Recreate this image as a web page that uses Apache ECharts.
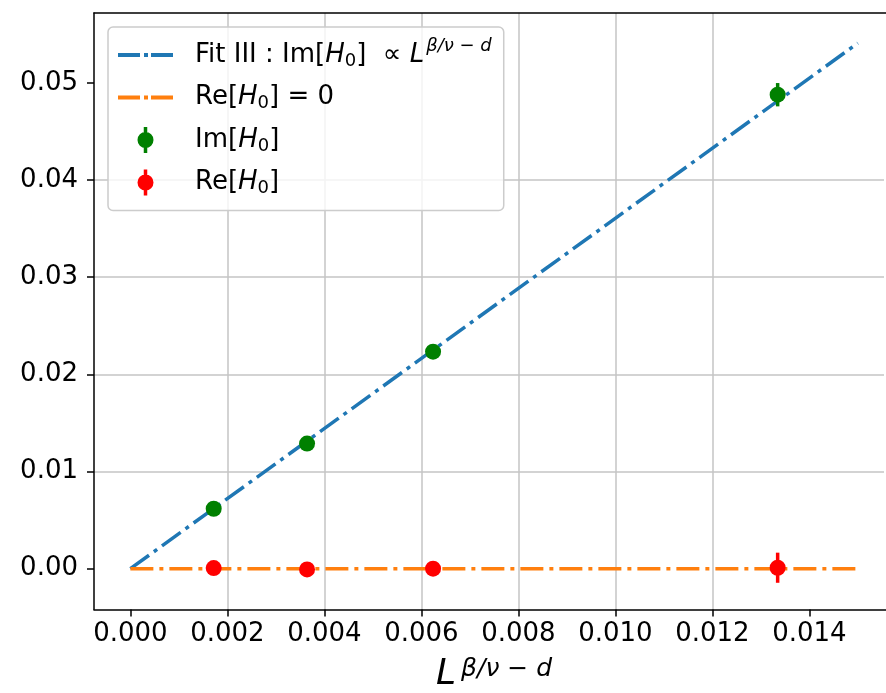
<!DOCTYPE html>
<html>
<head>
<meta charset="utf-8">
<script src="https://cdn.jsdelivr.net/npm/echarts@6/dist/echarts.min.js"></script>
<style>
html, body { margin: 0; padding: 0; background: #fff; overflow: hidden; }
#main { width: 886px; height: 693px; }
</style>
</head>
<body>
<div id="main"></div>
<script>
// x = L^(beta/nu - d)
const xVals = [0.001718, 0.003643, 0.006241, 0.013346];
const imVals = [0.00617, 0.01288, 0.02234, 0.04879];
const imErrs = [0.0002, 0.0002, 0.0002, 0.0012];
const reVals = [0.00006, -0.00007, 0.0, 0.0001];
const reErrs = [0.0002, 0.0002, 0.0002, 0.00155];
// fit lines
const fitX = [0, 0.015];
const fitIm = [0, 0.0541];
const fitRe = [0, 0];
// tick labels
const xTicks = [0, 0.002, 0.004, 0.006, 0.008, 0.010, 0.012, 0.014];
const yTicks = [0, 0.01, 0.02, 0.03, 0.04, 0.05];

const FONT = 'DejaVu Sans';
const dashDot = [23, 6, 4, 6];
const lineIcon = 'path://M0,0h22v4h-22z M26,0h4v4h-4z M33,0h22v4h-22z';
const dotIcon = 'path://M6.25,0h3.5v26h-3.5z M0,13a8,8 0 1,1 16,0a8,8 0 1,1 -16,0z';

function pairs (xs, ys) {
  return xs.map((x, i) => [x, ys[i]]);
}
function errData (xs, ys, es) {
  return xs.map((x, i) => [x, ys[i] - es[i], ys[i] + es[i]]);
}
function errBar (params, api) {
  const a = api.coord([api.value(0), api.value(1)]);
  const b = api.coord([api.value(0), api.value(2)]);
  return {
    type: 'line',
    shape: { x1: a[0], y1: a[1], x2: b[0], y2: b[1] },
    style: { stroke: api.visual('color'), lineWidth: 3.5 }
  };
}

const legendText = {
  fit: '{sp| }Fit III : Im[{i|H}{s|0}]  ∝ {i|L}{p|β/ν − d}',
  re0: '{sp| }Re[{i|H}{s|0}] = 0',
  im: '{sp| }Im[{i|H}{s|0}]',
  re: '{sp| }Re[{i|H}{s|0}]'
};

let myChart = echarts.init(document.getElementById('main'));
myChart.setOption({
  animation: false,
  backgroundColor: '#fff',
  textStyle: { fontFamily: FONT },
  grid: {
    left: 94,
    right: 0,
    top: 13,
    bottom: 83.5,
    containLabel: false,
    outerBoundsMode: 'none'
  },
  // the plot is cut off on the right, hide the edge line
  graphic: [
    {
      type: 'rect',
      right: 0,
      top: 14,
      z: 100,
      shape: { width: 2, height: 595 },
      style: { fill: '#fff' }
    }
  ],
  legend: {
    orient: 'vertical',
    left: 108,
    top: 27,
    padding: [10, 12, 10, 10],
    itemGap: 6.5,
    itemWidth: 55,
    itemHeight: 26,
    symbolKeepAspect: true,
    backgroundColor: 'rgba(255,255,255,0.8)',
    borderColor: '#cccccc',
    borderWidth: 1.5,
    borderRadius: 5,
    data: [
      { name: 'fit', icon: lineIcon },
      { name: 're0', icon: lineIcon },
      { name: 'im', icon: dotIcon },
      { name: 're', icon: dotIcon }
    ],
    formatter: name => legendText[name],
    textStyle: {
      color: '#000',
      fontFamily: FONT,
      fontSize: 26,
      lineHeight: 36,
      rich: {
        sp: { width: 17, fontSize: 26, lineHeight: 36 },
        i: { fontStyle: 'italic', fontSize: 26, lineHeight: 36, fontFamily: FONT },
        s: { fontSize: 18, lineHeight: 18, verticalAlign: 'bottom', padding: [0, 0, 3, 0], fontFamily: FONT },
        p: { fontStyle: 'italic', fontSize: 18, lineHeight: 18, verticalAlign: 'top', padding: [0, 0, 0, 2], fontFamily: FONT }
      }
    }
  },
  xAxis: [
    {
      type: 'value',
      min: -0.00075,
      max: 0.01558,
      interval: 0.002,
      name: '{L|L}{p|β/ν − d}',
      nameLocation: 'middle',
      nameGap: 45.5,
      nameTextStyle: {
        padding: [0, 0, 0, 8],
        rich: {
          L: { fontStyle: 'italic', fontSize: 36, lineHeight: 40, fontFamily: FONT, color: '#000' },
          p: { fontStyle: 'italic', fontSize: 25, lineHeight: 25, verticalAlign: 'top', padding: [2, 0, 0, 5], fontFamily: FONT, color: '#000' }
        }
      },
      axisLine: { onZero: false, lineStyle: { color: '#000', width: 1.5 } },
      axisTick: { show: true, length: 7, lineStyle: { color: '#000', width: 1.5 }, customValues: xTicks },
      axisLabel: {
        customValues: xTicks,
        margin: 12,
        fontSize: 26,
        color: '#000',
        fontFamily: FONT,
        formatter: v => v.toFixed(3)
      },
      splitLine: { show: true, showMinLine: false, showMaxLine: false, lineStyle: { color: '#c4c4c4', width: 1.5 } }
    },
    {
      // top spine only
      type: 'value',
      position: 'top',
      min: -0.00075,
      max: 0.01558,
      interval: 0.002,
      axisLine: { show: true, onZero: false, lineStyle: { color: '#000', width: 1.5 } },
      axisTick: { show: false },
      axisLabel: { show: false },
      splitLine: { show: false }
    }
  ],
  yAxis: {
    type: 'value',
    min: -0.0042,
    max: 0.0572,
    interval: 0.01,
    axisLine: { show: true, onZero: false, lineStyle: { color: '#000', width: 1.5 } },
    axisTick: { show: true, length: 7, lineStyle: { color: '#000', width: 1.5 }, customValues: yTicks },
    axisLabel: {
      customValues: yTicks,
      margin: 16,
      fontSize: 26,
      color: '#000',
      fontFamily: FONT,
      formatter: v => v.toFixed(2)
    },
    splitLine: { show: true, showMinLine: false, showMaxLine: false, lineStyle: { color: '#c4c4c4', width: 1.5 } }
  },
  series: [
    {
      name: 'fit',
      type: 'line',
      data: pairs(fitX, fitIm),
      symbol: 'none',
      z: 2,
      itemStyle: { color: '#1f77b4' },
      lineStyle: { color: '#1f77b4', width: 3.5, type: dashDot, cap: 'butt' }
    },
    {
      name: 're0',
      type: 'line',
      data: pairs(fitX, fitRe),
      symbol: 'none',
      z: 2,
      itemStyle: { color: '#ff7f0e' },
      lineStyle: { color: '#ff7f0e', width: 3.5, type: dashDot, cap: 'butt' }
    },
    {
      name: 'imErr',
      type: 'custom',
      renderItem: errBar,
      data: errData(xVals, imVals, imErrs),
      itemStyle: { color: '#008000' },
      z: 3
    },
    {
      name: 'im',
      type: 'scatter',
      data: pairs(xVals, imVals),
      symbolSize: 16,
      itemStyle: { color: '#008000', opacity: 1 },
      z: 4
    },
    {
      name: 'reErr',
      type: 'custom',
      renderItem: errBar,
      data: errData(xVals, reVals, reErrs),
      itemStyle: { color: '#ff0000' },
      z: 3
    },
    {
      name: 're',
      type: 'scatter',
      data: pairs(xVals, reVals),
      symbolSize: 16,
      itemStyle: { color: '#ff0000', opacity: 1 },
      z: 4
    }
  ]
});
</script>
</body>
</html>
